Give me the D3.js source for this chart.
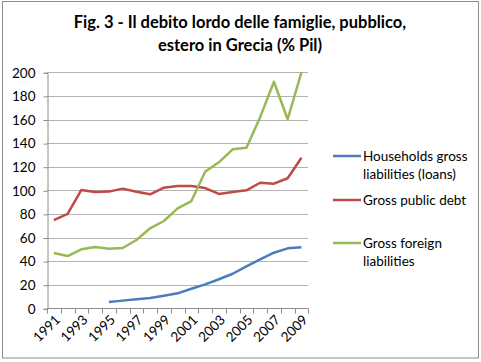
<!DOCTYPE html>
<html lang="it">
<head>
<meta charset="UTF-8">
<title>Fig. 3 - Debito Grecia</title>
<script src="https://d3js.org/d3.v7.min.js"></script>
<style>
  body { margin: 0; background: #fff; font-family: Lato, "Open Sans", sans-serif; }
  .grid line { stroke: #b3b3b3; stroke-width: 1; }
  .axis path, .axis line { stroke: #8c8c8c; }
  .axis text { font-family: Lato, sans-serif; font-size: 13.5px; fill: #000; }
  .legend text { font-size: 13.5px; fill: #000; }
</style>
</head>
<body>
<svg width="481" height="362"></svg>
<script>
const years = ["1991","1992","1993","1994","1995","1996","1997","1998","1999","2000",
               "2001","2002","2003","2004","2005","2006","2007","2008","2009"];
const yTicks = [0, 20, 40, 60, 80, 100, 120, 140, 160, 180, 200];

const households = [null, null, null, null, 5.3, 6.5, 7.6, 8.7, 10.7, 12.7,
                    16.6, 20.3, 24.6, 29.3, 35.6, 41.5, 47.1, 50.8, 51.7];
const publicDebt = [74.7, 80.0, 100.3, 98.5, 98.9, 101.4, 98.8, 96.6, 102.2, 103.6,
                    103.6, 101.9, 96.9, 98.6, 100.0, 106.4, 105.6, 110.2, 127.6];
const foreign = [46.9, 44.3, 50.0, 52.0, 50.5, 51.1, 57.9, 67.8, 74.0, 84.7,
                 90.9, 115.8, 123.7, 134.7, 136.1, 162.0, 192.0, 160.2, 200.0];

const series = [
  { name: ["Households gross", "liabilities (loans)"], values: households, color: "#4a7ebb" },
  { name: ["Gross public debt"], values: publicDebt, color: "#be4b48" },
  { name: ["Gross foreign", "liabilities"], values: foreign, color: "#98b954" }
];

const svg = d3.select("svg");

// outer border
svg.append("rect").attr("x", 2.5).attr("y", 1.5).attr("width", 476).attr("height", 356.5)
  .attr("fill", "none").attr("stroke", "#8c8c8c").attr("stroke-width", 1);

// title
svg.append("text").attr("x", 240).attr("y", 28).attr("text-anchor", "middle")
  .style("font-size", "16.5px").style("font-weight", "bold")
  .text("Fig. 3 - Il debito lordo delle famiglie, pubblico,");
svg.append("text").attr("x", 240).attr("y", 51).attr("text-anchor", "middle")
  .style("font-size", "16.5px").style("font-weight", "bold")
  .text("estero in Grecia (% Pil)");

const plotLeft = 47, plotRight = 308.3, plotTop = 72.3, plotBottom = 308.3;

const x = d3.scaleBand().domain(years).range([plotLeft, plotRight]).paddingInner(0).paddingOuter(0);
const y = d3.scaleLinear().domain([0, 200]).range([plotBottom, plotTop]);

// grid
svg.append("g").attr("class", "grid")
  .selectAll("line").data(yTicks.filter(d => d > 0)).join("line")
  .attr("x1", plotLeft).attr("x2", plotRight)
  .attr("y1", d => Math.round(y(d)) + 0.5).attr("y2", d => Math.round(y(d)) + 0.5);

// y axis
svg.append("g").attr("class", "axis")
  .attr("transform", `translate(${plotLeft + 0.5},0.5)`)
  .call(d3.axisLeft(y).tickValues(yTicks).tickSize(4).tickPadding(8));

// x axis
const xAxis = svg.append("g").attr("class", "axis")
  .attr("transform", `translate(0,${Math.round(plotBottom) + 0.5})`)
  .call(d3.axisBottom(x).tickSize(0).tickFormat(d => (+d % 2 === 1 ? d : "")));
xAxis.select(".domain").attr("d", `M${plotLeft},0H${plotRight}`);
xAxis.selectAll(".tick text")
  .attr("text-anchor", "end")
  .attr("dx", 0).attr("dy", 0)
  .attr("transform", "translate(5,10) rotate(-45)");
// boundary tick marks
xAxis.selectAll(".btick").data(years.concat(["end"])).join("line")
  .attr("class", "btick")
  .attr("x1", (d, i) => Math.round(plotLeft + i * x.step()) + 0.5)
  .attr("x2", (d, i) => Math.round(plotLeft + i * x.step()) + 0.5)
  .attr("y1", 0).attr("y2", 5)
  .attr("stroke", "#8c8c8c");

// lines
const line = d3.line()
  .defined(d => d.v !== null)
  .x(d => x(d.year) + x.bandwidth() / 2)
  .y(d => y(d.v));

series.forEach(s => {
  svg.append("path")
    .datum(years.map((yr, i) => ({ year: yr, v: s.values[i] })))
    .attr("fill", "none")
    .attr("stroke", s.color)
    .attr("stroke-width", 2.5)
    .attr("stroke-linejoin", "round")
    .attr("d", line);
});

// legend
const legendY = [156, 200, 243];
const legend = svg.append("g").attr("class", "legend");
series.forEach((s, i) => {
  const ly = legendY[i];
  legend.append("line")
    .attr("x1", 333).attr("x2", 361)
    .attr("y1", ly).attr("y2", ly)
    .attr("stroke", s.color).attr("stroke-width", 2.5);
  s.name.forEach((t, j) => {
    legend.append("text")
      .attr("x", 363)
      .attr("y", ly + 4.5 + j * 18)
      .text(t);
  });
});
</script>
</body>
</html>
